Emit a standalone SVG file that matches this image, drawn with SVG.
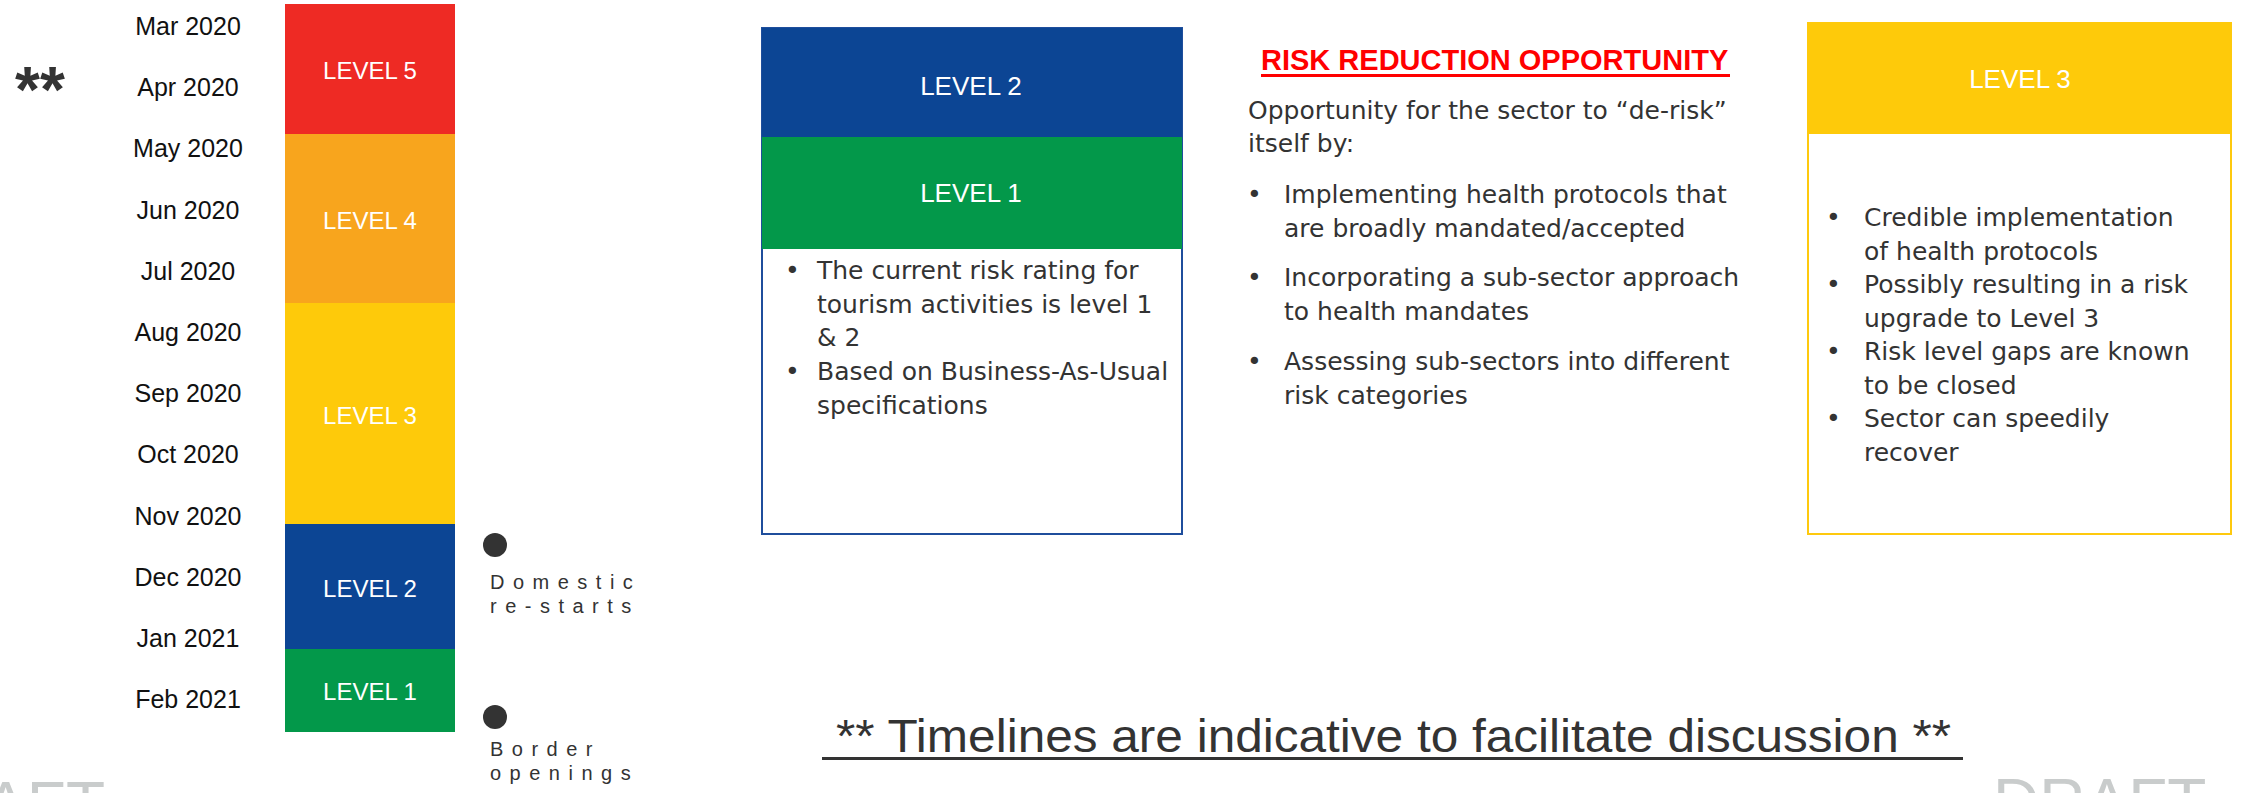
<svg xmlns="http://www.w3.org/2000/svg" width="2241" height="793" viewBox="0 0 2241 793">
<style>
.month{font-family:"Liberation Sans",Arial,sans-serif;font-size:25px;fill:#111;text-anchor:middle}
.lvl{font-family:"Liberation Sans",Arial,sans-serif;font-size:24px;fill:#fff;text-anchor:middle}
.hdr{font-family:"Liberation Sans",Arial,sans-serif;font-size:26px;fill:#fff;text-anchor:middle}
.body{font-family:"DejaVu Sans",Verdana,sans-serif;font-size:25px;fill:#333}
.mark{font-family:"Liberation Sans",Arial,sans-serif;font-size:20px;fill:#333;letter-spacing:8.5px}
.title{font-family:"Liberation Sans",Arial,sans-serif;font-size:29px;font-weight:bold;fill:#f00}
.foot{font-family:"Liberation Sans",Arial,sans-serif;font-size:46px;fill:#333}
.wm{font-family:"Liberation Sans",Arial,sans-serif;font-size:64px;fill:#c9cccc}
</style>
<rect width="2241" height="793" fill="#fff"/>
<g id="watermarks">
<text class="wm" x="105" y="827" text-anchor="end">DRAFT</text>
<text class="wm" x="1993" y="824">DRAFT</text>
</g>
<g id="asterisks"><text x="15" y="112" font-family="Liberation Sans,Arial,sans-serif" font-size="64" font-weight="bold" fill="#333">**</text></g>
<g id="months">
<text class="month" x="188" y="35">Mar 2020</text>
<text class="month" x="188" y="96">Apr 2020</text>
<text class="month" x="188" y="157">May 2020</text>
<text class="month" x="188" y="219">Jun 2020</text>
<text class="month" x="188" y="280">Jul 2020</text>
<text class="month" x="188" y="341">Aug 2020</text>
<text class="month" x="188" y="402">Sep 2020</text>
<text class="month" x="188" y="463">Oct 2020</text>
<text class="month" x="188" y="525">Nov 2020</text>
<text class="month" x="188" y="586">Dec 2020</text>
<text class="month" x="188" y="647">Jan 2021</text>
<text class="month" x="188" y="708">Feb 2021</text>
</g>
<g id="bar-level5"><rect x="285" y="4" width="170" height="130" fill="#ee2a24"/><text class="lvl" x="370" y="79">LEVEL 5</text></g>
<g id="bar-level4"><rect x="285" y="134" width="170" height="169" fill="#f8a51d"/><text class="lvl" x="370" y="229">LEVEL 4</text></g>
<g id="bar-level3"><rect x="285" y="303" width="170" height="221" fill="#feca0a"/><text class="lvl" x="370" y="424">LEVEL 3</text></g>
<g id="bar-level2"><rect x="285" y="524" width="170" height="125" fill="#0c4594"/><text class="lvl" x="370" y="597">LEVEL 2</text></g>
<g id="bar-level1"><rect x="285" y="649" width="170" height="83" fill="#03984a"/><text class="lvl" x="370" y="700">LEVEL 1</text></g>
<g id="marker-domestic"><circle cx="495" cy="545" r="12" fill="#333"/><text class="mark" x="490" y="589">Domestic</text><text class="mark" x="490" y="613">re-starts</text></g>
<g id="marker-border"><circle cx="495" cy="717" r="12" fill="#333"/><text class="mark" x="490" y="756">Border</text><text class="mark" x="490" y="780">openings</text></g>
<g id="current-box">
<rect x="762" y="28" width="420" height="506" fill="#fff" stroke="#1f4e9c" stroke-width="2"/>
<rect x="762" y="28" width="420" height="109" fill="#0c4594"/>
<rect x="762" y="137" width="420" height="112" fill="#03984a"/>
<text class="hdr" x="971" y="95">LEVEL 2</text>
<text class="hdr" x="971" y="202">LEVEL 1</text>
<text class="body" x="785" y="279">•</text><text class="body" x="817" y="279">The current risk rating for</text>
<text class="body" x="817" y="313">tourism activities is level 1</text>
<text class="body" x="817" y="346">&amp; 2</text>
<text class="body" x="785" y="380">•</text><text class="body" x="817" y="380">Based on Business-As-Usual</text>
<text class="body" x="817" y="414">specifications</text>
</g>
<g id="risk-reduction">
<text class="title" x="1261" y="70">RISK REDUCTION OPPORTUNITY</text>
<rect x="1261" y="74" width="469" height="3" fill="#f00"/>
<text class="body" x="1248" y="119">Opportunity for the sector to “de-risk”</text>
<text class="body" x="1248" y="152">itself by:</text>
<text class="body" x="1247" y="203">•</text><text class="body" x="1284" y="203">Implementing health protocols that</text>
<text class="body" x="1284" y="237">are broadly mandated/accepted</text>
<text class="body" x="1247" y="286">•</text><text class="body" x="1284" y="286">Incorporating a sub-sector approach</text>
<text class="body" x="1284" y="320">to health mandates</text>
<text class="body" x="1247" y="370">•</text><text class="body" x="1284" y="370">Assessing sub-sectors into different</text>
<text class="body" x="1284" y="404">risk categories</text>
</g>
<g id="level3-box">
<rect x="1808" y="23" width="423" height="511" fill="#fff" stroke="#fec90e" stroke-width="2"/>
<rect x="1808" y="23" width="423" height="111" fill="#feca0a"/>
<text class="hdr" x="2020" y="88">LEVEL 3</text>
<text class="body" x="1826" y="226">•</text><text class="body" x="1864" y="226">Credible implementation</text>
<text class="body" x="1864" y="260">of health protocols</text>
<text class="body" x="1826" y="293">•</text><text class="body" x="1864" y="293">Possibly resulting in a risk</text>
<text class="body" x="1864" y="327">upgrade to Level 3</text>
<text class="body" x="1826" y="360">•</text><text class="body" x="1864" y="360">Risk level gaps are known</text>
<text class="body" x="1864" y="394">to be closed</text>
<text class="body" x="1826" y="427">•</text><text class="body" x="1864" y="427">Sector can speedily</text>
<text class="body" x="1864" y="461">recover</text>
</g>
<g id="footnote">
<text class="foot" x="836" y="752" textLength="1115" lengthAdjust="spacingAndGlyphs">** Timelines are indicative to facilitate discussion **</text>
<rect x="822" y="757" width="1141" height="3" fill="#333"/>
</g>
<g id="connectors"/>
</svg>
